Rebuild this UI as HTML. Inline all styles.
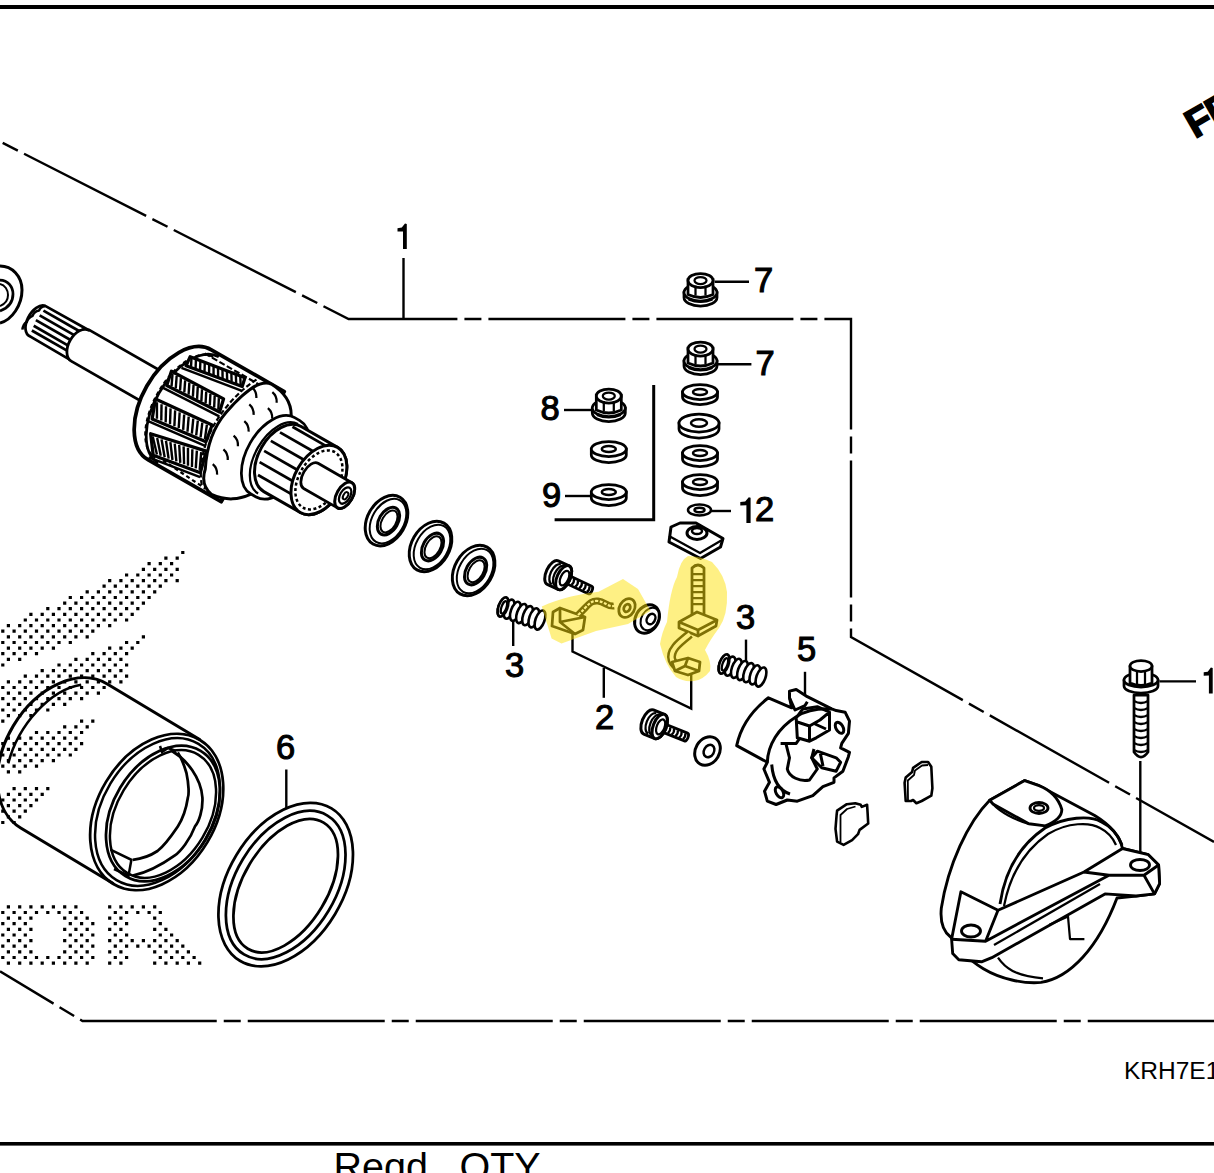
<!DOCTYPE html>
<html><head><meta charset="utf-8"><style>
html,body{margin:0;padding:0;background:#fff;}
body{width:1214px;height:1173px;overflow:hidden;position:relative;}
svg{position:absolute;left:0;top:0;}
text{font-family:"Liberation Sans",sans-serif;}
</style></head><body>
<svg width="1214" height="1173" viewBox="0 0 1214 1173">
<rect x="0" y="5" width="1214" height="4" fill="#000"/>
<rect x="0" y="1142" width="1214" height="3.6" fill="#000"/>
<text x="333.5" y="1180" font-size="39.5">Reqd</text>
<text x="459.5" y="1180" font-size="39.5">QTY</text>
<text x="1124" y="1079" font-size="24.5">KRH7E1</text>
<path fill="#000" d="M181.2 550.9h3.2v3.2h-3.2zM164.3 556.5h3.2v3.2h-3.2zM175.6 556.5h3.2v3.2h-3.2zM147.5 562.1h3.2v3.2h-3.2zM158.7 562.1h3.2v3.2h-3.2zM170.0 562.1h3.2v3.2h-3.2zM141.8 567.7h3.2v3.2h-3.2zM153.1 567.7h3.2v3.2h-3.2zM164.3 567.7h3.2v3.2h-3.2zM175.6 567.7h3.2v3.2h-3.2zM125.0 573.4h3.2v3.2h-3.2zM136.2 573.4h3.2v3.2h-3.2zM147.5 573.4h3.2v3.2h-3.2zM158.7 573.4h3.2v3.2h-3.2zM170.0 573.4h3.2v3.2h-3.2zM108.1 579.0h3.2v3.2h-3.2zM119.3 579.0h3.2v3.2h-3.2zM130.6 579.0h3.2v3.2h-3.2zM141.8 579.0h3.2v3.2h-3.2zM153.1 579.0h3.2v3.2h-3.2zM164.3 579.0h3.2v3.2h-3.2zM175.6 579.0h3.2v3.2h-3.2zM102.5 584.6h3.2v3.2h-3.2zM113.7 584.6h3.2v3.2h-3.2zM125.0 584.6h3.2v3.2h-3.2zM136.2 584.6h3.2v3.2h-3.2zM147.5 584.6h3.2v3.2h-3.2zM158.7 584.6h3.2v3.2h-3.2zM85.6 590.2h3.2v3.2h-3.2zM96.8 590.2h3.2v3.2h-3.2zM108.1 590.2h3.2v3.2h-3.2zM119.3 590.2h3.2v3.2h-3.2zM130.6 590.2h3.2v3.2h-3.2zM141.8 590.2h3.2v3.2h-3.2zM153.1 590.2h3.2v3.2h-3.2zM68.7 595.9h3.2v3.2h-3.2zM80.0 595.9h3.2v3.2h-3.2zM91.2 595.9h3.2v3.2h-3.2zM102.5 595.9h3.2v3.2h-3.2zM113.7 595.9h3.2v3.2h-3.2zM125.0 595.9h3.2v3.2h-3.2zM136.2 595.9h3.2v3.2h-3.2zM147.5 595.9h3.2v3.2h-3.2zM63.1 601.5h3.2v3.2h-3.2zM74.3 601.5h3.2v3.2h-3.2zM85.6 601.5h3.2v3.2h-3.2zM96.8 601.5h3.2v3.2h-3.2zM108.1 601.5h3.2v3.2h-3.2zM119.3 601.5h3.2v3.2h-3.2zM130.6 601.5h3.2v3.2h-3.2zM141.8 601.5h3.2v3.2h-3.2zM46.2 607.1h3.2v3.2h-3.2zM57.4 607.1h3.2v3.2h-3.2zM68.7 607.1h3.2v3.2h-3.2zM80.0 607.1h3.2v3.2h-3.2zM91.2 607.1h3.2v3.2h-3.2zM102.5 607.1h3.2v3.2h-3.2zM113.7 607.1h3.2v3.2h-3.2zM125.0 607.1h3.2v3.2h-3.2zM136.2 607.1h3.2v3.2h-3.2zM29.3 612.7h3.2v3.2h-3.2zM40.6 612.7h3.2v3.2h-3.2zM51.8 612.7h3.2v3.2h-3.2zM63.1 612.7h3.2v3.2h-3.2zM74.3 612.7h3.2v3.2h-3.2zM85.6 612.7h3.2v3.2h-3.2zM96.8 612.7h3.2v3.2h-3.2zM108.1 612.7h3.2v3.2h-3.2zM119.3 612.7h3.2v3.2h-3.2zM130.6 612.7h3.2v3.2h-3.2zM23.7 618.4h3.2v3.2h-3.2zM34.9 618.4h3.2v3.2h-3.2zM46.2 618.4h3.2v3.2h-3.2zM57.4 618.4h3.2v3.2h-3.2zM68.7 618.4h3.2v3.2h-3.2zM80.0 618.4h3.2v3.2h-3.2zM91.2 618.4h3.2v3.2h-3.2zM102.5 618.4h3.2v3.2h-3.2zM113.7 618.4h3.2v3.2h-3.2zM125.0 618.4h3.2v3.2h-3.2zM6.8 624.0h3.2v3.2h-3.2zM18.1 624.0h3.2v3.2h-3.2zM29.3 624.0h3.2v3.2h-3.2zM40.6 624.0h3.2v3.2h-3.2zM51.8 624.0h3.2v3.2h-3.2zM63.1 624.0h3.2v3.2h-3.2zM74.3 624.0h3.2v3.2h-3.2zM85.6 624.0h3.2v3.2h-3.2zM96.8 624.0h3.2v3.2h-3.2zM108.1 624.0h3.2v3.2h-3.2zM1.2 629.6h3.2v3.2h-3.2zM12.5 629.6h3.2v3.2h-3.2zM23.7 629.6h3.2v3.2h-3.2zM34.9 629.6h3.2v3.2h-3.2zM46.2 629.6h3.2v3.2h-3.2zM57.4 629.6h3.2v3.2h-3.2zM68.7 629.6h3.2v3.2h-3.2zM80.0 629.6h3.2v3.2h-3.2zM91.2 629.6h3.2v3.2h-3.2zM6.8 635.2h3.2v3.2h-3.2zM18.1 635.2h3.2v3.2h-3.2zM29.3 635.2h3.2v3.2h-3.2zM40.6 635.2h3.2v3.2h-3.2zM51.8 635.2h3.2v3.2h-3.2zM63.1 635.2h3.2v3.2h-3.2zM74.3 635.2h3.2v3.2h-3.2zM85.6 635.2h3.2v3.2h-3.2zM141.8 635.2h3.2v3.2h-3.2zM1.2 640.9h3.2v3.2h-3.2zM12.5 640.9h3.2v3.2h-3.2zM23.7 640.9h3.2v3.2h-3.2zM34.9 640.9h3.2v3.2h-3.2zM46.2 640.9h3.2v3.2h-3.2zM57.4 640.9h3.2v3.2h-3.2zM68.7 640.9h3.2v3.2h-3.2zM125.0 640.9h3.2v3.2h-3.2zM136.2 640.9h3.2v3.2h-3.2zM6.8 646.5h3.2v3.2h-3.2zM18.1 646.5h3.2v3.2h-3.2zM29.3 646.5h3.2v3.2h-3.2zM40.6 646.5h3.2v3.2h-3.2zM51.8 646.5h3.2v3.2h-3.2zM108.1 646.5h3.2v3.2h-3.2zM119.3 646.5h3.2v3.2h-3.2zM130.6 646.5h3.2v3.2h-3.2zM1.2 652.1h3.2v3.2h-3.2zM12.5 652.1h3.2v3.2h-3.2zM23.7 652.1h3.2v3.2h-3.2zM34.9 652.1h3.2v3.2h-3.2zM91.2 652.1h3.2v3.2h-3.2zM102.5 652.1h3.2v3.2h-3.2zM113.7 652.1h3.2v3.2h-3.2zM125.0 652.1h3.2v3.2h-3.2zM6.8 657.7h3.2v3.2h-3.2zM18.1 657.7h3.2v3.2h-3.2zM74.3 657.7h3.2v3.2h-3.2zM85.6 657.7h3.2v3.2h-3.2zM96.8 657.7h3.2v3.2h-3.2zM108.1 657.7h3.2v3.2h-3.2zM119.3 657.7h3.2v3.2h-3.2zM1.2 663.4h3.2v3.2h-3.2zM57.4 663.4h3.2v3.2h-3.2zM68.7 663.4h3.2v3.2h-3.2zM80.0 663.4h3.2v3.2h-3.2zM91.2 663.4h3.2v3.2h-3.2zM102.5 663.4h3.2v3.2h-3.2zM113.7 663.4h3.2v3.2h-3.2zM125.0 663.4h3.2v3.2h-3.2zM40.6 669.0h3.2v3.2h-3.2zM51.8 669.0h3.2v3.2h-3.2zM63.1 669.0h3.2v3.2h-3.2zM74.3 669.0h3.2v3.2h-3.2zM85.6 669.0h3.2v3.2h-3.2zM96.8 669.0h3.2v3.2h-3.2zM108.1 669.0h3.2v3.2h-3.2zM119.3 669.0h3.2v3.2h-3.2zM23.7 674.6h3.2v3.2h-3.2zM34.9 674.6h3.2v3.2h-3.2zM46.2 674.6h3.2v3.2h-3.2zM57.4 674.6h3.2v3.2h-3.2zM68.7 674.6h3.2v3.2h-3.2zM80.0 674.6h3.2v3.2h-3.2zM91.2 674.6h3.2v3.2h-3.2zM102.5 674.6h3.2v3.2h-3.2zM113.7 674.6h3.2v3.2h-3.2zM125.0 674.6h3.2v3.2h-3.2zM6.8 680.2h3.2v3.2h-3.2zM18.1 680.2h3.2v3.2h-3.2zM29.3 680.2h3.2v3.2h-3.2zM40.6 680.2h3.2v3.2h-3.2zM51.8 680.2h3.2v3.2h-3.2zM63.1 680.2h3.2v3.2h-3.2zM74.3 680.2h3.2v3.2h-3.2zM85.6 680.2h3.2v3.2h-3.2zM96.8 680.2h3.2v3.2h-3.2zM108.1 680.2h3.2v3.2h-3.2zM119.3 680.2h3.2v3.2h-3.2zM1.2 685.9h3.2v3.2h-3.2zM12.5 685.9h3.2v3.2h-3.2zM23.7 685.9h3.2v3.2h-3.2zM34.9 685.9h3.2v3.2h-3.2zM46.2 685.9h3.2v3.2h-3.2zM57.4 685.9h3.2v3.2h-3.2zM68.7 685.9h3.2v3.2h-3.2zM80.0 685.9h3.2v3.2h-3.2zM91.2 685.9h3.2v3.2h-3.2zM102.5 685.9h3.2v3.2h-3.2zM6.8 691.5h3.2v3.2h-3.2zM18.1 691.5h3.2v3.2h-3.2zM29.3 691.5h3.2v3.2h-3.2zM40.6 691.5h3.2v3.2h-3.2zM51.8 691.5h3.2v3.2h-3.2zM63.1 691.5h3.2v3.2h-3.2zM74.3 691.5h3.2v3.2h-3.2zM85.6 691.5h3.2v3.2h-3.2zM96.8 691.5h3.2v3.2h-3.2zM1.2 697.1h3.2v3.2h-3.2zM12.5 697.1h3.2v3.2h-3.2zM23.7 697.1h3.2v3.2h-3.2zM34.9 697.1h3.2v3.2h-3.2zM46.2 697.1h3.2v3.2h-3.2zM57.4 697.1h3.2v3.2h-3.2zM68.7 697.1h3.2v3.2h-3.2zM80.0 697.1h3.2v3.2h-3.2zM6.8 702.7h3.2v3.2h-3.2zM18.1 702.7h3.2v3.2h-3.2zM29.3 702.7h3.2v3.2h-3.2zM40.6 702.7h3.2v3.2h-3.2zM51.8 702.7h3.2v3.2h-3.2zM63.1 702.7h3.2v3.2h-3.2zM1.2 708.4h3.2v3.2h-3.2zM12.5 708.4h3.2v3.2h-3.2zM23.7 708.4h3.2v3.2h-3.2zM34.9 708.4h3.2v3.2h-3.2zM46.2 708.4h3.2v3.2h-3.2zM6.8 714.0h3.2v3.2h-3.2zM18.1 714.0h3.2v3.2h-3.2zM29.3 714.0h3.2v3.2h-3.2zM1.2 719.6h3.2v3.2h-3.2zM80.0 719.6h3.2v3.2h-3.2zM91.2 719.6h3.2v3.2h-3.2zM63.1 725.2h3.2v3.2h-3.2zM74.3 725.2h3.2v3.2h-3.2zM85.6 725.2h3.2v3.2h-3.2zM34.9 730.9h3.2v3.2h-3.2zM46.2 730.9h3.2v3.2h-3.2zM57.4 730.9h3.2v3.2h-3.2zM68.7 730.9h3.2v3.2h-3.2zM80.0 730.9h3.2v3.2h-3.2zM6.8 736.5h3.2v3.2h-3.2zM18.1 736.5h3.2v3.2h-3.2zM29.3 736.5h3.2v3.2h-3.2zM40.6 736.5h3.2v3.2h-3.2zM51.8 736.5h3.2v3.2h-3.2zM63.1 736.5h3.2v3.2h-3.2zM74.3 736.5h3.2v3.2h-3.2zM1.2 742.1h3.2v3.2h-3.2zM12.5 742.1h3.2v3.2h-3.2zM23.7 742.1h3.2v3.2h-3.2zM34.9 742.1h3.2v3.2h-3.2zM46.2 742.1h3.2v3.2h-3.2zM57.4 742.1h3.2v3.2h-3.2zM68.7 742.1h3.2v3.2h-3.2zM80.0 742.1h3.2v3.2h-3.2zM6.8 747.7h3.2v3.2h-3.2zM18.1 747.7h3.2v3.2h-3.2zM29.3 747.7h3.2v3.2h-3.2zM40.6 747.7h3.2v3.2h-3.2zM51.8 747.7h3.2v3.2h-3.2zM63.1 747.7h3.2v3.2h-3.2zM74.3 747.7h3.2v3.2h-3.2zM1.2 753.4h3.2v3.2h-3.2zM12.5 753.4h3.2v3.2h-3.2zM23.7 753.4h3.2v3.2h-3.2zM34.9 753.4h3.2v3.2h-3.2zM46.2 753.4h3.2v3.2h-3.2zM57.4 753.4h3.2v3.2h-3.2zM68.7 753.4h3.2v3.2h-3.2zM6.8 759.0h3.2v3.2h-3.2zM18.1 759.0h3.2v3.2h-3.2zM29.3 759.0h3.2v3.2h-3.2zM40.6 759.0h3.2v3.2h-3.2zM51.8 759.0h3.2v3.2h-3.2zM1.2 764.6h3.2v3.2h-3.2zM12.5 764.6h3.2v3.2h-3.2zM23.7 764.6h3.2v3.2h-3.2zM34.9 764.6h3.2v3.2h-3.2zM6.8 770.2h3.2v3.2h-3.2zM18.1 770.2h3.2v3.2h-3.2zM12.5 787.1h3.2v3.2h-3.2zM23.7 787.1h3.2v3.2h-3.2zM34.9 787.1h3.2v3.2h-3.2zM46.2 787.1h3.2v3.2h-3.2zM6.8 792.7h3.2v3.2h-3.2zM18.1 792.7h3.2v3.2h-3.2zM29.3 792.7h3.2v3.2h-3.2zM40.6 792.7h3.2v3.2h-3.2zM1.2 798.4h3.2v3.2h-3.2zM12.5 798.4h3.2v3.2h-3.2zM23.7 798.4h3.2v3.2h-3.2zM34.9 798.4h3.2v3.2h-3.2zM6.8 804.0h3.2v3.2h-3.2zM18.1 804.0h3.2v3.2h-3.2zM29.3 804.0h3.2v3.2h-3.2zM1.2 809.6h3.2v3.2h-3.2zM12.5 809.6h3.2v3.2h-3.2zM23.7 809.6h3.2v3.2h-3.2zM6.8 815.2h3.2v3.2h-3.2zM18.1 815.2h3.2v3.2h-3.2zM1.2 820.9h3.2v3.2h-3.2zM12.5 820.9h3.2v3.2h-3.2zM6.8 905.2h3.2v3.2h-3.2zM18.1 905.2h3.2v3.2h-3.2zM29.3 905.2h3.2v3.2h-3.2zM40.6 905.2h3.2v3.2h-3.2zM51.8 905.2h3.2v3.2h-3.2zM63.1 905.2h3.2v3.2h-3.2zM74.3 905.2h3.2v3.2h-3.2zM108.1 905.2h3.2v3.2h-3.2zM119.3 905.2h3.2v3.2h-3.2zM130.6 905.2h3.2v3.2h-3.2zM141.8 905.2h3.2v3.2h-3.2zM153.1 905.2h3.2v3.2h-3.2zM1.2 910.9h3.2v3.2h-3.2zM12.5 910.9h3.2v3.2h-3.2zM23.7 910.9h3.2v3.2h-3.2zM34.9 910.9h3.2v3.2h-3.2zM46.2 910.9h3.2v3.2h-3.2zM57.4 910.9h3.2v3.2h-3.2zM68.7 910.9h3.2v3.2h-3.2zM80.0 910.9h3.2v3.2h-3.2zM113.7 910.9h3.2v3.2h-3.2zM125.0 910.9h3.2v3.2h-3.2zM136.2 910.9h3.2v3.2h-3.2zM147.5 910.9h3.2v3.2h-3.2zM158.7 910.9h3.2v3.2h-3.2zM6.8 916.5h3.2v3.2h-3.2zM18.1 916.5h3.2v3.2h-3.2zM29.3 916.5h3.2v3.2h-3.2zM63.1 916.5h3.2v3.2h-3.2zM74.3 916.5h3.2v3.2h-3.2zM85.6 916.5h3.2v3.2h-3.2zM108.1 916.5h3.2v3.2h-3.2zM119.3 916.5h3.2v3.2h-3.2zM153.1 916.5h3.2v3.2h-3.2zM1.2 922.1h3.2v3.2h-3.2zM12.5 922.1h3.2v3.2h-3.2zM23.7 922.1h3.2v3.2h-3.2zM68.7 922.1h3.2v3.2h-3.2zM80.0 922.1h3.2v3.2h-3.2zM91.2 922.1h3.2v3.2h-3.2zM113.7 922.1h3.2v3.2h-3.2zM125.0 922.1h3.2v3.2h-3.2zM158.7 922.1h3.2v3.2h-3.2zM6.8 927.7h3.2v3.2h-3.2zM18.1 927.7h3.2v3.2h-3.2zM29.3 927.7h3.2v3.2h-3.2zM63.1 927.7h3.2v3.2h-3.2zM74.3 927.7h3.2v3.2h-3.2zM85.6 927.7h3.2v3.2h-3.2zM108.1 927.7h3.2v3.2h-3.2zM119.3 927.7h3.2v3.2h-3.2zM153.1 927.7h3.2v3.2h-3.2zM164.3 927.7h3.2v3.2h-3.2zM1.2 933.4h3.2v3.2h-3.2zM12.5 933.4h3.2v3.2h-3.2zM23.7 933.4h3.2v3.2h-3.2zM68.7 933.4h3.2v3.2h-3.2zM80.0 933.4h3.2v3.2h-3.2zM91.2 933.4h3.2v3.2h-3.2zM113.7 933.4h3.2v3.2h-3.2zM125.0 933.4h3.2v3.2h-3.2zM158.7 933.4h3.2v3.2h-3.2zM170.0 933.4h3.2v3.2h-3.2zM6.8 939.0h3.2v3.2h-3.2zM18.1 939.0h3.2v3.2h-3.2zM29.3 939.0h3.2v3.2h-3.2zM63.1 939.0h3.2v3.2h-3.2zM74.3 939.0h3.2v3.2h-3.2zM85.6 939.0h3.2v3.2h-3.2zM108.1 939.0h3.2v3.2h-3.2zM119.3 939.0h3.2v3.2h-3.2zM130.6 939.0h3.2v3.2h-3.2zM141.8 939.0h3.2v3.2h-3.2zM153.1 939.0h3.2v3.2h-3.2zM164.3 939.0h3.2v3.2h-3.2zM175.6 939.0h3.2v3.2h-3.2zM1.2 944.6h3.2v3.2h-3.2zM12.5 944.6h3.2v3.2h-3.2zM23.7 944.6h3.2v3.2h-3.2zM68.7 944.6h3.2v3.2h-3.2zM80.0 944.6h3.2v3.2h-3.2zM91.2 944.6h3.2v3.2h-3.2zM113.7 944.6h3.2v3.2h-3.2zM125.0 944.6h3.2v3.2h-3.2zM136.2 944.6h3.2v3.2h-3.2zM147.5 944.6h3.2v3.2h-3.2zM158.7 944.6h3.2v3.2h-3.2zM170.0 944.6h3.2v3.2h-3.2zM181.2 944.6h3.2v3.2h-3.2zM6.8 950.2h3.2v3.2h-3.2zM18.1 950.2h3.2v3.2h-3.2zM29.3 950.2h3.2v3.2h-3.2zM63.1 950.2h3.2v3.2h-3.2zM74.3 950.2h3.2v3.2h-3.2zM85.6 950.2h3.2v3.2h-3.2zM108.1 950.2h3.2v3.2h-3.2zM119.3 950.2h3.2v3.2h-3.2zM153.1 950.2h3.2v3.2h-3.2zM164.3 950.2h3.2v3.2h-3.2zM175.6 950.2h3.2v3.2h-3.2zM186.8 950.2h3.2v3.2h-3.2zM1.2 955.9h3.2v3.2h-3.2zM12.5 955.9h3.2v3.2h-3.2zM23.7 955.9h3.2v3.2h-3.2zM34.9 955.9h3.2v3.2h-3.2zM46.2 955.9h3.2v3.2h-3.2zM57.4 955.9h3.2v3.2h-3.2zM68.7 955.9h3.2v3.2h-3.2zM80.0 955.9h3.2v3.2h-3.2zM91.2 955.9h3.2v3.2h-3.2zM113.7 955.9h3.2v3.2h-3.2zM125.0 955.9h3.2v3.2h-3.2zM158.7 955.9h3.2v3.2h-3.2zM170.0 955.9h3.2v3.2h-3.2zM181.2 955.9h3.2v3.2h-3.2zM192.5 955.9h3.2v3.2h-3.2zM6.8 961.5h3.2v3.2h-3.2zM18.1 961.5h3.2v3.2h-3.2zM29.3 961.5h3.2v3.2h-3.2zM40.6 961.5h3.2v3.2h-3.2zM51.8 961.5h3.2v3.2h-3.2zM63.1 961.5h3.2v3.2h-3.2zM74.3 961.5h3.2v3.2h-3.2zM85.6 961.5h3.2v3.2h-3.2zM108.1 961.5h3.2v3.2h-3.2zM119.3 961.5h3.2v3.2h-3.2zM153.1 961.5h3.2v3.2h-3.2zM164.3 961.5h3.2v3.2h-3.2zM175.6 961.5h3.2v3.2h-3.2zM186.8 961.5h3.2v3.2h-3.2zM198.1 961.5h3.2v3.2h-3.2z"/>
<g fill="none" stroke="#000" stroke-width="2.4" stroke-dasharray="137 7 17 7">
<path d="M0,141.5 L348.6,319 L851,319 L851,637 L1214,842" stroke-dashoffset="141"/>
<path d="M0,971.4 L82.5,1021 L1214,1021" stroke-dashoffset="74.5"/>
</g>
<g font-size="34.5" fill="#000" stroke="#000" stroke-width="1.1">
<text x="754" y="291.5">7</text>
<text x="755.5" y="374.5">7</text>
<text x="540.5" y="420">8</text>
<text x="542" y="506.5">9</text>
<text x="755" y="521.2">2</text>
<text x="736" y="628.5">3</text>
<text x="505" y="677">3</text>
<text x="595" y="728.5">2</text>
<text x="797" y="660.5">5</text>
<text x="276" y="759">6</text>
</g>
<g stroke="#000" stroke-width="2.4" fill="none">
<path d="M403.5,258 V319"/>
<path d="M714.6,281.7 H749"/>
<path d="M717.6,364.2 H751.4"/>
<path d="M564,410 H591.6"/>
<path d="M565,496 H591.6"/>
<path d="M711,511 H731"/>
<path d="M746,639.6 V672"/>
<path d="M513.2,620 V646"/>
<path d="M572.5,632.6 V651.6 L691.2,708.7 V672.5"/>
<path d="M603.8,668 V697.8"/>
<path d="M805,671.8 V695.6"/>
<path d="M286.3,769.5 V808.6"/>
<path d="M1159.4,681.4 H1196"/>
<path d="M1140.3,761 V861"/>
</g>
<path fill="#000" d="M405.0,223.4 L406.8,224.0 L406.8,249.1 L403.0,249.1 L403.0,231.4 L397.5,231.6 L397.5,228.2 L401.8,227.6 Z"/><path fill="#000" d="M748.8,497.2 L750.6,497.8 L750.6,523 L746.4,523 L746.4,505.2 L740.3,505.4 L740.3,502.0 L745.2,501.4 Z"/><path fill="#000" d="M1210.9,667.5 L1212.7,668.1 L1212.7,693.4 L1208.9,693.4 L1208.9,675.5 L1203.7,675.7 L1203.7,672.3 L1207.7,671.7 Z"/>
<path d="M653.7,385 V519.7 H554.6" stroke="#000" stroke-width="3" fill="none"/>
<text x="1195" y="139" font-size="40" font-weight="bold" letter-spacing="-1" stroke="#000" stroke-width="1.5" transform="rotate(-30 1195 139)">FR</text>
<path d="M0,266 C12,266 22,276 22,290 C22,305 12,320 0,323" fill="none" stroke="#000" stroke-width="3.00"/>
<path d="M0,280 C8,280 13,287 13,294 C13,302 8,308 0,311" fill="none" stroke="#000" stroke-width="2.75"/>
<path d="M0,284 C5,285 8,290 8,295 C8,300 5,304 0,306" fill="none" stroke="#000" stroke-width="2.00"/>
<g transform="translate(80.15 345.5) rotate(29.8)" stroke="#000" stroke-width="2.75" fill="#fff" stroke-linejoin="round">
<path d="M-50,-17 L0,-17.5 A11,17.5 0 0 0 0,17.5 L-48,17 A10,17 0 0 1 -50,-17 Z"/>
<path fill="none" stroke-width="2.50" d="M-50,-17 q-4,3 -3,7 q-4,3 -3,8 q-3,4 -2,8 q-2,4 0,9"/>
<path fill="none" d="M-49.2,-12 L-7.6,-12"/>
<path fill="none" d="M-50.1,-6 L-5.8,-6"/>
<path fill="none" d="M-51.0,0 L-4.0,0"/>
<path fill="none" d="M-50.1,6 L-5.8,6"/>
<path fill="none" d="M-49.35,11 L-7.3,11"/>
<path d="M0,-18 L125,-18 L125,18 L0,18 A11,17.5 0 0 1 0,-17.5 Z"/>
<path d="M116,-61.5 L200,-61.5 L200,65.5 L116,65.5 A38,63.5 0 0 1 116,-61.5 Z" stroke-width="3.75"/>
<path fill="none" stroke-width="2.75" d="M126,-59 A34,61 0 0 0 126,63"/>
<path fill="none" stroke-width="2.25" stroke-dasharray="4 3" d="M121,-56 A30,58 0 0 0 121,60"/>
<path d="M101,-45 L159,-54 L161,-45 L102,-35 Z" stroke-width="3.25"/>
<path fill="none" stroke-width="2.4" d="M102.9,-44.3 L106.7,-36.8"/>
<path fill="none" stroke-width="2.4" d="M107.6,-45.1 L111.5,-37.6"/>
<path fill="none" stroke-width="2.4" d="M112.3,-45.8 L116.2,-38.4"/>
<path fill="none" stroke-width="2.4" d="M117.0,-46.5 L120.9,-39.1"/>
<path fill="none" stroke-width="2.4" d="M121.6,-47.3 L125.7,-39.9"/>
<path fill="none" stroke-width="2.4" d="M126.3,-48.0 L130.4,-40.7"/>
<path fill="none" stroke-width="2.4" d="M131.0,-48.7 L135.2,-41.5"/>
<path fill="none" stroke-width="2.4" d="M135.7,-49.5 L139.9,-42.3"/>
<path fill="none" stroke-width="2.4" d="M140.4,-50.2 L144.7,-43.1"/>
<path fill="none" stroke-width="2.4" d="M145.1,-50.9 L149.4,-43.9"/>
<path fill="none" stroke-width="2.4" d="M149.8,-51.7 L154.2,-44.7"/>
<path fill="none" stroke-width="2.4" d="M154.5,-52.4 L158.9,-45.5"/>
<path fill="none" stroke-width="2.50" d="M99,-31 L163,-41"/>
<path d="M92,-23 L151,-25 L154,-11.6 L95,-8.3 Z" stroke-width="3.25"/>
<path fill="none" stroke-width="2.4" d="M94.2,-21.4 L99.5,-10.2"/>
<path fill="none" stroke-width="2.4" d="M98.9,-21.5 L104.2,-10.5"/>
<path fill="none" stroke-width="2.4" d="M103.7,-21.7 L109.0,-10.7"/>
<path fill="none" stroke-width="2.4" d="M108.5,-21.9 L113.7,-11.0"/>
<path fill="none" stroke-width="2.4" d="M113.2,-22.1 L118.5,-11.3"/>
<path fill="none" stroke-width="2.4" d="M118.0,-22.2 L123.3,-11.5"/>
<path fill="none" stroke-width="2.4" d="M122.7,-22.4 L128.0,-11.8"/>
<path fill="none" stroke-width="2.4" d="M127.5,-22.6 L132.8,-12.0"/>
<path fill="none" stroke-width="2.4" d="M132.3,-22.7 L137.5,-12.3"/>
<path fill="none" stroke-width="2.4" d="M137.0,-22.9 L142.3,-12.5"/>
<path fill="none" stroke-width="2.4" d="M141.8,-23.1 L147.1,-12.8"/>
<path fill="none" stroke-width="2.4" d="M146.5,-23.3 L151.8,-13.0"/>
<path fill="none" stroke-width="2.50" d="M92,-4.300000000000001 L156,-7.6"/>
<path d="M92,9 L154,3.4 L157,21 L99,28 Z" stroke-width="3.25"/>
<path fill="none" stroke-width="2.4" d="M94.8,11.0 L103.0,25.3"/>
<path fill="none" stroke-width="2.4" d="M99.8,10.5 L107.7,24.8"/>
<path fill="none" stroke-width="2.4" d="M104.7,10.0 L112.4,24.2"/>
<path fill="none" stroke-width="2.4" d="M109.7,9.6 L117.1,23.7"/>
<path fill="none" stroke-width="2.4" d="M114.7,9.1 L121.8,23.1"/>
<path fill="none" stroke-width="2.4" d="M119.6,8.6 L126.5,22.6"/>
<path fill="none" stroke-width="2.4" d="M124.6,8.2 L131.3,22.0"/>
<path fill="none" stroke-width="2.4" d="M129.5,7.7 L136.0,21.5"/>
<path fill="none" stroke-width="2.4" d="M134.5,7.2 L140.7,20.9"/>
<path fill="none" stroke-width="2.4" d="M139.5,6.8 L145.4,20.4"/>
<path fill="none" stroke-width="2.4" d="M144.4,6.3 L150.1,19.8"/>
<path fill="none" stroke-width="2.4" d="M149.4,5.8 L154.8,19.3"/>
<path fill="none" stroke-width="2.50" d="M96,32 L159,25"/>
<path d="M105,41.5 L162,29 L167.5,50.6 L118,59 Z" stroke-width="3.25"/>
<path fill="none" stroke-width="2.4" d="M108.2,42.9 L120.8,56.4"/>
<path fill="none" stroke-width="2.4" d="M112.8,42.0 L124.8,55.7"/>
<path fill="none" stroke-width="2.4" d="M117.3,41.0 L128.9,55.0"/>
<path fill="none" stroke-width="2.4" d="M121.8,40.0 L133.0,54.2"/>
<path fill="none" stroke-width="2.4" d="M126.3,39.0 L137.0,53.5"/>
<path fill="none" stroke-width="2.4" d="M130.8,38.1 L141.1,52.8"/>
<path fill="none" stroke-width="2.4" d="M135.4,37.1 L145.2,52.1"/>
<path fill="none" stroke-width="2.4" d="M139.9,36.1 L149.2,51.4"/>
<path fill="none" stroke-width="2.4" d="M144.4,35.2 L153.3,50.7"/>
<path fill="none" stroke-width="2.4" d="M148.9,34.2 L157.4,49.9"/>
<path fill="none" stroke-width="2.4" d="M153.5,33.2 L161.4,49.2"/>
<path fill="none" stroke-width="2.4" d="M158.0,32.3 L165.5,48.5"/>
<path fill="none" stroke-width="2.50" d="M115,63 L169.5,54.6"/>
<path fill="none" stroke-width="2.2" stroke-dasharray="6 2.5" d="M112,-55 L190,-55"/>
<path fill="none" stroke-width="2.2" stroke-dasharray="5 2.5" d="M170,-58 C160,-40 154,-10 156,10 C158,30 164,48 176,62"/>
<path fill="none" stroke-width="2.2" stroke-dasharray="4 3" d="M122,58 L180,62"/>
<path d="M185,-61.5 C200,-61 212,-55 218,-44 L222,44 C214,55 205,62 188,64 C178,62 172,55 170,45 C160,25 156,5 160,-15 C165,-40 172,-60 185,-61.5 Z" stroke-width="3.00"/>
<path fill="none" stroke-width="2.25" d="M170,-49 q6,1 9,7"/>
<path fill="none" stroke-width="2.25" d="M176,-33 q6,1 9,7"/>
<path fill="none" stroke-width="2.25" d="M180,-16 q6,1 9,7"/>
<path fill="none" stroke-width="2.25" d="M178,2 q6,1 9,7"/>
<path fill="none" stroke-width="2.25" d="M176,19 q6,1 9,7"/>
<path fill="none" stroke-width="2.25" d="M174,37 q6,1 9,7"/>
<path fill="none" stroke-width="2.25" d="M190,-55 q6,1 9,7"/>
<path fill="none" stroke-width="2.25" d="M194,-39 q6,1 9,7"/>
<path d="M222,-44 L228,-44 A26,44 0 0 1 228,44 L222,44 A26,44 0 0 1 222,-44 Z" stroke-width="2.75"/>
<path fill="none" stroke-width="2.25" d="M228,-40 A23,40 0 0 0 228,40"/>
<path d="M232,-39.5 L274,-39.5 A24,37.5 0 0 1 274,35.5 L232,35.5 A24,37.5 0 0 1 232,-39.5 Z" stroke-width="3.00"/>
<path fill="none" stroke-width="2.75" d="M224.6,-35 L262.6,-35"/>
<path fill="none" stroke-width="2.75" d="M216.6,-24 L254.6,-24"/>
<path fill="none" stroke-width="2.75" d="M212.9,-12 L250.9,-12"/>
<path fill="none" stroke-width="2.75" d="M212.0,0 L250.0,0"/>
<path fill="none" stroke-width="2.75" d="M213.7,12 L251.7,12"/>
<path fill="none" stroke-width="2.75" d="M218.7,24 L256.7,24"/>
<ellipse cx="274" cy="-2" rx="24" ry="37.5" stroke-width="3.00"/>
<ellipse cx="274" cy="-2" rx="20" ry="32" fill="none" stroke-width="2.50" stroke-dasharray="3 2.5"/>
<path d="M265,-16 L304,-16 A8,14.5 0 0 1 304,13 L265,13 A8,14.5 0 0 1 265,-16 Z" stroke-width="2.75"/>
<ellipse cx="304" cy="-1.5" rx="8" ry="14.5" stroke-width="3.00"/>
<ellipse cx="304.5" cy="-1.5" rx="5" ry="9" fill="none" stroke-width="2.25"/>
<ellipse cx="305" cy="-1.5" rx="2.2" ry="4" fill="none" stroke-width="2.00"/>
</g>
<g fill="#fff" stroke="#000" stroke-width="3.00"><ellipse cx="386.5" cy="520.6" rx="27" ry="19" transform="rotate(-60 386.5 520.6)" /><ellipse cx="388.0" cy="521.1" rx="24" ry="16" transform="rotate(-60 388.0 521.1)" fill="none" stroke-width="2.00"/><ellipse cx="388.5" cy="521.1" rx="15" ry="9.5" transform="rotate(-60 388.5 521.1)" /><ellipse cx="389.0" cy="521.4" rx="12" ry="7" transform="rotate(-60 389.0 521.4)" fill="none" stroke-width="2.00"/></g>
<g fill="#fff" stroke="#000" stroke-width="3.00"><ellipse cx="430.5" cy="546.5" rx="27" ry="19" transform="rotate(-60 430.5 546.5)" /><ellipse cx="432.0" cy="547.0" rx="24" ry="16" transform="rotate(-60 432.0 547.0)" fill="none" stroke-width="2.00"/><ellipse cx="432.5" cy="547.0" rx="15" ry="9.5" transform="rotate(-60 432.5 547.0)" /><ellipse cx="433.0" cy="547.3" rx="12" ry="7" transform="rotate(-60 433.0 547.3)" fill="none" stroke-width="2.00"/></g>
<g fill="#fff" stroke="#000" stroke-width="3.00"><ellipse cx="473.6" cy="570.5" rx="27" ry="19" transform="rotate(-60 473.6 570.5)" /><ellipse cx="475.1" cy="571.0" rx="24" ry="16" transform="rotate(-60 475.1 571.0)" fill="none" stroke-width="2.00"/><ellipse cx="475.6" cy="571.0" rx="15" ry="9.5" transform="rotate(-60 475.6 571.0)" /><ellipse cx="476.1" cy="571.3" rx="12" ry="7" transform="rotate(-60 476.1 571.3)" fill="none" stroke-width="2.00"/></g>
<g transform="translate(700.5 273.5)" stroke="#000" stroke-width="2.75" fill="#fff">
<path d="M-16.5,19 L-16.5,24 A16.5,8.5 0 0 0 16.5,24 L16.5,19 Z"/>
<ellipse cx="0" cy="19" rx="16.5" ry="8.5"/>
<path d="M-12.5,6 L-12.5,21 Q0,27 12.5,21 L12.5,6 Z"/>
<ellipse cx="0" cy="7" rx="12.5" ry="7"/>
<ellipse cx="0" cy="7" rx="6" ry="3.5" fill="none" stroke-width="2.25"/>
<path fill="none" stroke-width="2.25" d="M-5,12 V22 M5,12 V22"/>
<path fill="none" stroke-width="2.00" d="M-12,26 Q0,31 12,26"/>
</g>
<g transform="translate(700.5 342)" stroke="#000" stroke-width="2.75" fill="#fff">
<path d="M-16.5,19 L-16.5,24 A16.5,8.5 0 0 0 16.5,24 L16.5,19 Z"/>
<ellipse cx="0" cy="19" rx="16.5" ry="8.5"/>
<path d="M-12.5,6 L-12.5,21 Q0,27 12.5,21 L12.5,6 Z"/>
<ellipse cx="0" cy="7" rx="12.5" ry="7"/>
<ellipse cx="0" cy="7" rx="6" ry="3.5" fill="none" stroke-width="2.25"/>
<path fill="none" stroke-width="2.25" d="M-5,12 V22 M5,12 V22"/>
<path fill="none" stroke-width="2.00" d="M-12,26 Q0,31 12,26"/>
</g>
<g transform="translate(700 392)" stroke="#000" stroke-width="2.75" fill="#fff">
<path d="M-17.5,0 L-17.5,5 A17.5,7.5 0 0 0 17.5,5 L17.5,0 Z"/>
<ellipse cx="0" cy="0" rx="17.5" ry="7.5"/>
<ellipse cx="0" cy="0" rx="7.0" ry="3.1" stroke-width="2.50"/>
</g>
<g transform="translate(699 423)" stroke="#000" stroke-width="2.75" fill="#fff">
<path d="M-20,0 L-20,6 A20,9 0 0 0 20,6 L20,0 Z"/>
<ellipse cx="0" cy="0" rx="20" ry="9"/>
<ellipse cx="0" cy="0" rx="8.0" ry="3.8" stroke-width="2.50"/>
</g>
<g transform="translate(700 453)" stroke="#000" stroke-width="2.75" fill="#fff">
<path d="M-17.5,0 L-17.5,6 A17.5,7.5 0 0 0 17.5,6 L17.5,0 Z"/>
<ellipse cx="0" cy="0" rx="17.5" ry="7.5"/>
<ellipse cx="0" cy="0" rx="7.0" ry="3.1" stroke-width="2.50"/>
</g>
<g transform="translate(700 482)" stroke="#000" stroke-width="2.75" fill="#fff">
<path d="M-17.5,0 L-17.5,6 A17.5,7.5 0 0 0 17.5,6 L17.5,0 Z"/>
<ellipse cx="0" cy="0" rx="17.5" ry="7.5"/>
<ellipse cx="0" cy="0" rx="7.0" ry="3.1" stroke-width="2.50"/>
</g>
<g stroke="#000" stroke-width="2.50" fill="#fff"><ellipse cx="699.5" cy="510" rx="11.5" ry="5.5"/><ellipse cx="699.5" cy="510" rx="5" ry="2.2"/></g>
<g transform="translate(608.8 389)" stroke="#000" stroke-width="2.75" fill="#fff">
<path d="M-16.5,19 L-16.5,24 A16.5,8.5 0 0 0 16.5,24 L16.5,19 Z"/>
<ellipse cx="0" cy="19" rx="16.5" ry="8.5"/>
<path d="M-12.5,6 L-12.5,21 Q0,27 12.5,21 L12.5,6 Z"/>
<ellipse cx="0" cy="7" rx="12.5" ry="7"/>
<ellipse cx="0" cy="7" rx="6" ry="3.5" fill="none" stroke-width="2.25"/>
<path fill="none" stroke-width="2.25" d="M-5,12 V22 M5,12 V22"/>
<path fill="none" stroke-width="2.00" d="M-12,26 Q0,31 12,26"/>
</g>
<g transform="translate(608.8 449)" stroke="#000" stroke-width="2.75" fill="#fff">
<path d="M-17.5,0 L-17.5,6 A17.5,7.5 0 0 0 17.5,6 L17.5,0 Z"/>
<ellipse cx="0" cy="0" rx="17.5" ry="7.5"/>
<ellipse cx="0" cy="0" rx="7.0" ry="3.1" stroke-width="2.50"/>
</g>
<g transform="translate(608.8 492)" stroke="#000" stroke-width="2.75" fill="#fff">
<path d="M-17.5,0 L-17.5,6 A17.5,7.5 0 0 0 17.5,6 L17.5,0 Z"/>
<ellipse cx="0" cy="0" rx="17.5" ry="7.5"/>
<ellipse cx="0" cy="0" rx="7.0" ry="3.1" stroke-width="2.50"/>
</g>
<g stroke="#000" stroke-width="3.00" fill="#fff" stroke-linejoin="round"><path d="M671,527 L680,523 L696,523 L723,538.5 L720.5,547 L700.5,558.5 L669,542 Z"/><path fill="none" stroke-width="2.25" d="M669,536 L700,553 L722,540"/><ellipse cx="697" cy="533" rx="10" ry="6.5"/><ellipse cx="697" cy="531" rx="5" ry="3" stroke-width="2.50"/></g>
<g transform="translate(560 576) rotate(25.0)" stroke="#000" stroke-width="2.75" fill="#fff">
<path d="M8,-4.2 L33.1058907144937,-4.2 A2.1,4.2 0 0 1 33.1058907144937,4.2 L8,4.2 Z"/>
<path fill="none" stroke-width="2.25" d="M14.0,-3.2 A2.1,4.2 0 0 1 14.0,3.2"/>
<path fill="none" stroke-width="2.25" d="M18.3,-3.2 A2.1,4.2 0 0 1 18.3,3.2"/>
<path fill="none" stroke-width="2.25" d="M22.6,-3.2 A2.1,4.2 0 0 1 22.6,3.2"/>
<path fill="none" stroke-width="2.25" d="M26.8,-3.2 A2.1,4.2 0 0 1 26.8,3.2"/>
<path fill="none" stroke-width="2.25" d="M31.1,-3.2 A2.1,4.2 0 0 1 31.1,3.2"/>
<path d="M-8,-13 L4,-13 A6.5,13 0 0 1 4,13 L-8,13 A6.5,13 0 0 1 -8,-13 Z" stroke-width="3.00"/>
<path fill="none" stroke-width="2.25" d="M-4,-11 A5.8500000000000005,11 0 0 0 -4,11 M0,-11 A5.8500000000000005,11 0 0 0 0,11"/>
<ellipse cx="4" cy="0" rx="6.5" ry="13" stroke-width="3.00"/>
<ellipse cx="5" cy="0" rx="3.9" ry="7.8" fill="none" stroke-width="2.25"/>
</g>
<g transform="translate(656 725) rotate(21.8)" stroke="#000" stroke-width="2.75" fill="#fff">
<path d="M8,-4.2 L32.31098884280702,-4.2 A2.1,4.2 0 0 1 32.31098884280702,4.2 L8,4.2 Z"/>
<path fill="none" stroke-width="2.25" d="M14.0,-3.2 A2.1,4.2 0 0 1 14.0,3.2"/>
<path fill="none" stroke-width="2.25" d="M18.1,-3.2 A2.1,4.2 0 0 1 18.1,3.2"/>
<path fill="none" stroke-width="2.25" d="M22.2,-3.2 A2.1,4.2 0 0 1 22.2,3.2"/>
<path fill="none" stroke-width="2.25" d="M26.2,-3.2 A2.1,4.2 0 0 1 26.2,3.2"/>
<path fill="none" stroke-width="2.25" d="M30.3,-3.2 A2.1,4.2 0 0 1 30.3,3.2"/>
<path d="M-8,-13 L4,-13 A6.5,13 0 0 1 4,13 L-8,13 A6.5,13 0 0 1 -8,-13 Z" stroke-width="3.00"/>
<path fill="none" stroke-width="2.25" d="M-4,-11 A5.8500000000000005,11 0 0 0 -4,11 M0,-11 A5.8500000000000005,11 0 0 0 0,11"/>
<ellipse cx="4" cy="0" rx="6.5" ry="13" stroke-width="3.00"/>
<ellipse cx="5" cy="0" rx="3.9" ry="7.8" fill="none" stroke-width="2.25"/>
</g>
<g transform="translate(503 607) rotate(19.4)" stroke="#000" stroke-width="2.6" fill="#fff">
<ellipse cx="0.0" cy="0" rx="4.5" ry="10" />
<ellipse cx="6.5" cy="0" rx="4.5" ry="10" />
<ellipse cx="13.1" cy="0" rx="4.5" ry="10" />
<ellipse cx="19.6" cy="0" rx="4.5" ry="10" />
<ellipse cx="26.1" cy="0" rx="4.5" ry="10" />
<ellipse cx="32.7" cy="0" rx="4.5" ry="10" />
<ellipse cx="39.2" cy="0" rx="4.5" ry="10" />
<ellipse cx="0" cy="0" rx="4.5" ry="10"/>
<ellipse cx="1" cy="0" rx="2.5" ry="6.5" fill="none" stroke-width="2.25"/>
</g>
<g transform="translate(724 664) rotate(19.4)" stroke="#000" stroke-width="2.6" fill="#fff">
<ellipse cx="0.0" cy="0" rx="4.5" ry="10" />
<ellipse cx="6.5" cy="0" rx="4.5" ry="10" />
<ellipse cx="13.1" cy="0" rx="4.5" ry="10" />
<ellipse cx="19.6" cy="0" rx="4.5" ry="10" />
<ellipse cx="26.1" cy="0" rx="4.5" ry="10" />
<ellipse cx="32.7" cy="0" rx="4.5" ry="10" />
<ellipse cx="39.2" cy="0" rx="4.5" ry="10" />
<ellipse cx="0" cy="0" rx="4.5" ry="10"/>
<ellipse cx="1" cy="0" rx="2.5" ry="6.5" fill="none" stroke-width="2.25"/>
</g>
<g fill="#fff" stroke="#000" stroke-width="3.00"><ellipse cx="707.5" cy="751" rx="15" ry="12" transform="rotate(-60 707.5 751)" /><ellipse cx="709" cy="751" rx="6.5" ry="5" transform="rotate(-60 709 751)" stroke-width="2.50"/></g>
<g fill="#fff" stroke="#000" stroke-width="3.00"><ellipse cx="647" cy="619" rx="15" ry="11.5" transform="rotate(-60 647 619)" /><ellipse cx="650" cy="619" rx="12" ry="8.5" transform="rotate(-60 650 619)" fill="none" stroke-width="2.00"/><ellipse cx="651" cy="619" rx="5.5" ry="4" transform="rotate(-60 651 619)" stroke-width="2.50"/></g>
<g stroke="#000" stroke-width="2.75" fill="#fff" stroke-linejoin="round"><path d="M553,612 L560,608 L585,617 L583,630 L575,634 L552,626 Z"/><path fill="none" d="M560,608 L560,622 L575,634 M560,622 L585,617"/><path fill="none" stroke-width="7" d="M578,615 C588,606 590,600 598,601 C605,602 608,607 614,606"/><path fill="none" stroke="#fff" stroke-width="2.2" stroke-dasharray="3 1.5" d="M578,615 C588,606 590,600 598,601 C605,602 608,607 614,606"/><ellipse cx="627" cy="608" rx="10" ry="7.5" transform="rotate(-60 627 608)" /><ellipse cx="627" cy="608" rx="4" ry="3" transform="rotate(-60 627 608)" /><path d="M692,568 Q698,562 704,568 L704,616 L692,616 Z"/><path fill="none" stroke-width="2.25" d="M693,574 h10 M693,580 h10 M693,586 h10 M693,592 h10 M693,598 h10 M693,604 h10"/><path d="M679,622 L697,612 L717,620 L716,626 L698,636 L679,628 Z"/><path fill="none" d="M679,622 L698,630 L717,620 M698,630 V636"/><path fill="none" stroke-width="9" d="M690,634 C680,642 669,650 672,660 C675,668 684,670 690,668"/><path fill="none" stroke="#fff" stroke-width="4" d="M690,634 C680,642 669,650 672,660 C675,668 684,670 690,668"/><path d="M672,662 L688,658 L700,662 L699,671 L688,675 L675,671 Z"/><path fill="none" d="M688,658 L685,666 L699,671 M685,666 L675,671"/></g>
<g stroke="#000" stroke-width="3.00" fill="#fff" stroke-linejoin="round"><path d="M768.4,697.8 L791.7,707.8 L789.5,697.8 L789.5,691.1 L796.2,689.5 L807.3,696.7 L831.7,708.9 L836.2,710.6 L845.1,712.2 L849.5,721.1 L848.4,733.4 L841.8,743.4 L840.6,747.8 L849.5,752.3 L848.4,756.7 L842.9,771.2 L834,777.9 L834,782.3 L822.9,786.7 L812.8,795.6 L797.3,801.2 L787.3,800 L776.1,804.5 L767.3,801.2 L764.5,791.2 L769.5,782.3 L763.9,769 L767.3,762.3 L736.7,745.6 C740,730 750,712 768.4,697.8 Z"/><path fill="none" d="M789.5,697.8 L795,710 L805,705.6 L807.3,701.7"/><path fill="none" d="M767.3,762.3 C768,745 778,728 796.2,716.7 C805,711 815,708 831.7,708.9"/><path fill="none" d="M771.7,764.5 C773,780 778,790 790,794"/><path fill="none" d="M796.2,717.8 L802.8,708.9 L817.3,706.7 L829.5,712.2 L829.5,730 L816.2,737.8 L809.5,741.2 L797.3,737.8 Z M797.3,722 L809.5,726 L809.5,741.2 M809.5,726 L820,720 L829.5,712.2 M815,724 L826,729"/><path fill="none" d="M780.6,743.4 L796.2,743.4 L800,738 M786,744 L789.5,757.8 L787.3,769 C789,777 800,782 809.5,780 L817.3,769 L811.7,757.8 L814,749"/><path fill="none" d="M811.7,757.8 L817.3,751.2 L836.2,757.8 L840.6,762.3 L836.2,771.2 L821.7,767.8 Z M820,752 L823,766"/><ellipse cx="779.5" cy="792.3" rx="3.5" ry="6" transform="rotate(-30 779.5 792.3)" /><ellipse cx="839.5" cy="727.8" rx="3.5" ry="6" transform="rotate(-30 839.5 727.8)" /></g>
<g stroke="#000" stroke-width="2.6" fill="#fff" stroke-linejoin="round"><path d="M837.1,810.7 L846.8,804.2 L855.3,803.2 L860.7,804.8 L861.8,806.9 L867.1,804.8 L867.6,812.8 L868.2,823.5 L859.6,829.9 L858,834.2 L852.1,840.1 L843.6,844.9 L837.1,841.7 L835.5,828.9 L836.6,815 Z"/><path fill="none" stroke-width="1.8" d="M840.5,842 L840.5,815 L847,809 L855.5,806.5"/><path d="M905.7,777.5 L912.1,772.1 L913.1,767.8 L921.7,762 L928.1,762 L931.3,766.8 L932.4,788.2 L931.3,795.7 L921.7,801 L916.4,803.2 L913.1,800 L911,801 L905.7,801 L904.6,782.8 Z"/><path fill="none" stroke-width="1.8" d="M908,800 L907.8,780.5 L914,775 L915,770.5 L922,765.5 L928,765"/></g>
<g stroke="#000" stroke-width="2.88" fill="#fff" stroke-linejoin="round"><path d="M989.7,800.2 C968,822 948,865 941.3,908.3 C940,922 944,932 950.6,937 L960,950 C975,965 990,975 1012,980 C1025,983 1035,983 1041,982.4 C1070,978 1098,948 1117,898 L1136,896 L1154.5,893.9 L1159.6,883.6 L1158.6,865 L1148.3,854.7 L1122.5,848.5 C1120,836 1110,825 1094.7,815.6 L1039,785.7 L1024.7,780.6 Z"/><path d="M989.7,800.2 L1024.7,780.6 L1039,785.7 C1050,790 1058,797 1061.8,809.4 C1062,816 1055,822 1045.3,825.9 L1028.8,823.8 L993,804 Z"/><path fill="none" stroke-width="2.25" d="M993,804 C1000,812 1015,820 1028.8,823.8"/><ellipse cx="1039" cy="808" rx="9" ry="5.5" transform="rotate(0 1039 808)" /><ellipse cx="1039" cy="808" rx="5" ry="2.8" transform="rotate(0 1039 808)" stroke-width="2.25"/><path fill="none" d="M1000,904 C1005,870 1020,845 1045,828 C1065,817 1090,815 1101,821.8 C1110,826 1117,832 1122,845"/><path fill="none" stroke-width="2.25" d="M1004,906 C1010,875 1025,850 1048,834 C1068,822 1090,822 1100,828 C1108,832 1113,838 1116,845"/><path d="M1084,872 L1122.5,848.5 L1148.3,854.7 L1158.6,865 L1159.6,883.6 L1154.5,893.9 L1136,896 L1105,893.9 L991.8,957.7 L981.5,961.8 L958.8,959.8 L952.7,953.6 L951.6,939.2 L960.9,891.8 L998,910.3 Z"/><path fill="none" d="M1084,872 L1109,875.3 L1144,875.3 L1158.6,865 M1109,875.3 L985.6,941.2 L951.6,939.2 M998,910.3 L985.6,941.2 M1144,875.3 L1154.5,893.9"/><path fill="none" stroke-width="2.25" d="M1100,884 L994,945"/><ellipse cx="1140" cy="865" rx="9.5" ry="5.5" transform="rotate(0 1140 865)" /><ellipse cx="971" cy="931" rx="9.5" ry="6" transform="rotate(0 971 931)" /><path fill="none" stroke-width="2.25" d="M998,957.7 C1005,968 1015,976 1043,978.3 M1049.4,924.7 L1068,916.5 L1070,939 L1084.4,939"/></g>
<g stroke="#000" stroke-width="2.75" fill="#fff" stroke-linejoin="round"><path d="M1134,695 L1134,752 Q1141,762 1148,752 L1148,695 Z"/><path fill="none" stroke-width="2.25" d="M1134,701 q7,4 14,0"/><path fill="none" stroke-width="2.25" d="M1134,708 q7,4 14,0"/><path fill="none" stroke-width="2.25" d="M1134,715 q7,4 14,0"/><path fill="none" stroke-width="2.25" d="M1134,722 q7,4 14,0"/><path fill="none" stroke-width="2.25" d="M1134,729 q7,4 14,0"/><path fill="none" stroke-width="2.25" d="M1134,736 q7,4 14,0"/><path fill="none" stroke-width="2.25" d="M1134,743 q7,4 14,0"/><path fill="none" stroke-width="2.25" d="M1134,750 q7,4 14,0"/><path d="M1124,680 L1124,686 A17,7 0 0 0 1158,686 L1158,680 Z"/><ellipse cx="1141" cy="680" rx="17" ry="7"/><path d="M1130,666 L1130,683 Q1141,688 1152,683 L1152,666 Z"/><ellipse cx="1141" cy="666" rx="11" ry="5.5"/><path fill="none" stroke-width="2.25" d="M1137,670 V684 M1145,670 V684"/></g>
<g fill="none" stroke="#000" stroke-width="2.75">
<ellipse cx="285.7" cy="884.6" rx="88.9" ry="57.5" transform="rotate(-59 285.7 884.6)" />
<ellipse cx="285.7" cy="885" rx="81" ry="50" transform="rotate(-59 285.7 885)" />
<ellipse cx="285.7" cy="885.7" rx="73.6" ry="42" transform="rotate(-59 285.7 885.7)" />
</g>
<g transform="translate(64 756) rotate(-59)" stroke="#000" stroke-width="3.00" fill="none">
<path d="M-84,0 A84,59 0 0 1 84,0 L84,108.3 M-84,0 L-84,108.3"/>
<path stroke-width="2.50" d="M-35,-44 A80,50 0 0 1 70,-22"/>
</g>
<g stroke="#000" stroke-width="2.75" fill="none">
<ellipse cx="156.7" cy="812" rx="84" ry="59" transform="rotate(-59 156.7 812)" />
<ellipse cx="157.5" cy="812" rx="79.5" ry="55" transform="rotate(-59 157.5 812)" stroke-width="2.50"/>
<ellipse cx="163" cy="813.5" rx="73" ry="50" transform="rotate(-59 163 813.5)" />
<ellipse cx="163" cy="814" rx="69" ry="46" transform="rotate(-59 163 814)" stroke-width="2.50"/>
<path d="M172,751 C187,760 201,778 202.4,797.5 C203,810 199,822 195,826.4 C190,840 180,852 174.9,855.4 C160,866 145,873 132.8,875.7"/>
<path d="M177.8,752.5 C183,760 186,772 186.4,772.8 C189,785 189,795 187.9,797.5 C186,810 182,820 177.8,826.4 C172,835 165,845 157.5,851 C150,856 140,859 132.8,859.8"/>
<path stroke-width="2.50" d="M160,746 L162,752 L168,748 L176,751 M110.4,849.6 L131.4,859.8 L128.5,875.7 L114,869"/>
</g>
<g fill="rgb(253,226,10)" fill-opacity="0.5">
<path d="M541.8,606.5 C560,598 580,594 598.6,591.7 L623,579 L638,589 L650.5,611 L628,624 L596,631 L561.5,643.5 L551.6,638.6 Z"/>
<path d="M688,556 Q700,556 712,562 Q725,575 727,592 Q728,615 719,628 Q710,640 705,650 Q712,662 710,671 Q703,680 694,681 Q683,682 676,677 Q665,665 660,644 Q662,632 667,622 Q670,590 677,577 Q680,560 688,556 Z"/>
</g>
</svg>
</body></html>
